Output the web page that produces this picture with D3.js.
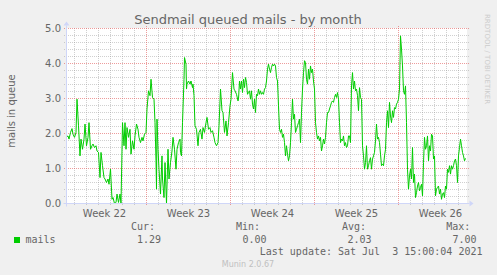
<!DOCTYPE html>
<html><head><meta charset="utf-8">
<script src="https://cdn.jsdelivr.net/npm/d3@7"></script>
<style>
html,body{margin:0;padding:0;background:#F0F0F0;}
svg{display:block;}
text{white-space:pre;}
</style></head>
<body>
<svg id="chart" width="497" height="275"></svg>
<script>
// ---------- DATA ----------
const chartTitle = "Sendmail queued mails - by month";
const yAxisLabel = "mails in queue";
const startTime = "2021-05-31T08:00:00Z";
const endTime   = "2021-07-03T16:00:00Z";
const weekStarts = ["2021-05-31","2021-06-07","2021-06-14","2021-06-21","2021-06-28"];
const weekLabels = ["Week 22","Week 23","Week 24","Week 25","Week 26"];
const yTicks = [0,1,2,3,4,5];
const yTickLabels = ["0.0","1.0","2.0","3.0","4.0","5.0"];
const seriesName = "mails";
const statLabels = ["Cur:","Min:","Avg:","Max:"];
const statValues = ["1.29","0.00","2.03","7.00"];
const lastUpdate = "Last update: Sat Jul  3 15:00:04 2021";
const footer = "Munin 2.0.67";
const watermark = "RRDTOOL / TOBI OETIKER";

// hours after startTime
const sampleHours = [
0,3,5,8,11,13,16,19,21,24,27,29,32,35,37,40,43,45,48,51,53,56,59,61,64,67,69,72,75,77,80,83,85,88,91,93,96,99,101,104,107,109,
112,115,117,119,121,124,127,129,132,135,137,140,143,145,148,151,153,156,159,161,164,167,169,172,175,177,179,180,181,183,185,188,191,192,195,197,200,203,205,208,211,213,216,219,221,224,227,
228,230,232,235,236,239,240,241,244,247,249,252,253,255,257,260,263,265,268,271,273,276,279,281,284,287,289,292,295,297,300,303,305,308,311,313,316,319,321,324,327,329,332,335,337,340,343,
344,346,348,350,352,354,356,358,360,362,364,366,368,370,372,374,376,378,380,382,
384,386,388,390,392,394,396,398,400,402,404,406,408,410,412,414,416,418,420,422,
424,426,428,430,432,434,436,438,440,442,444,446,448,450,452,454,456,458,460,462,
464,466,468,470,472,474,476,478,480,482,484,486,488,490,492,494,496,498,500,502,
504,506,508,510,512,514,516,518,520,522,524,526,528,530,532,534,536,538,540,542,
544,546,548,550,552,554,556,558,560,562,564,566,568,570,572,574,576,578,580,582,
584,586,588,590,592,594,596,598,600,602,604,606,608,610,612,614,616,618,620,622,
624,626,628,630,632,634,636,638,640,642,644,646,648,650,652,654,656,658,660,662,
664,666,668,670,672,674,676,678,680,682,684,686,688,690,692,694,696,698,700,702,
704,706,708,710,712,714,716,718,720,722,724,726,728,730,732,734,736,738,740,742,
744,746,748,750,752,754,756,758,760,762,764,766,768,770,772,774,776,778,780,782,
784,786,788,790,792,794,796,798
];
const mailsQueued = [
1.90,1.93,1.84,2.03,2.14,1.98,1.89,2.03,2.98,2.22,1.36,1.84,1.55,1.84,2.27,1.65,1.89,2.31,1.55,1.65,1.70,1.60,1.65,1.50,1.46,0.74,1.46,1.08,0.74,0.70,0.60,0.70,0.55,0.98,0.12,0.17,0.00,0.03,0.27,0.03,0.27,0.00,
2.31,1.65,2.31,1.55,2.17,1.89,2.12,1.41,1.79,1.55,1.93,2.27,2.12,1.89,1.74,1.89,1.79,1.98,2.03,2.70,3.22,3.08,3.55,3.03,2.98,2.31,1.22,0.41,2.41,1.55,0.98,0.27,1.36,0.70,0.17,1.17,0.00,1.55,0.70,1.17,1.50,1.89,1.55,0.98,1.55,1.74,1.84,
1.46,1.36,2.31,3.55,4.17,3.98,3.27,3.41,3.50,3.41,3.50,3.31,3.41,3.08,2.22,2.12,1.65,2.03,2.12,1.84,2.17,2.03,2.31,2.46,2.12,2.17,2.03,2.08,1.89,1.74,1.65,1.74,2.22,3.27,2.65,2.60,2.03,2.36,1.93,2.31,2.79,2.98,3.74,3.27,3.22,3.12,2.93,
2.98,3.50,3.27,3.50,3.17,3.55,3.31,3.60,3.46,3.12,3.17,3.22,2.98,3.22,2.84,2.70,2.98,2.60,3.12,3.08,3.27,3.12,3.22,3.12,3.17,3.12,3.27,3.31,3.50,3.84,
3.98,3.84,3.74,3.89,3.98,3.93,3.98,3.93,3.60,3.50,2.79,2.12,2.03,2.12,1.89,1.98,1.74,1.36,1.65,1.41,1.22,1.36,1.74,2.31,2.98,2.41,2.55,2.03,
2.12,2.22,2.31,2.41,1.74,2.60,3.27,3.74,4.08,4.03,3.55,3.41,3.84,3.55,3.93,3.74,3.84,3.50,3.27,2.31,2.03,1.84,1.93,1.79,1.89,1.50,1.65,1.84,1.70,1.89,
2.31,2.60,2.60,2.70,2.79,2.89,2.93,2.89,3.03,3.12,3.03,3.17,2.98,2.31,1.74,1.84,1.79,1.93,1.65,1.74,1.60,1.65,1.93,1.93,1.74,3.36,3.74,3.27,
3.50,3.22,3.27,3.08,2.65,3.31,3.03,2.98,1.65,1.36,0.98,1.17,1.65,0.98,1.08,1.22,1.31,0.98,1.27,1.36,1.46,1.79,2.27,1.84,1.89,1.74,1.41,1.08,1.13,1.08,
1.36,1.55,2.31,2.65,2.17,2.89,2.50,2.31,2.65,2.46,2.74,2.70,2.84,2.89,2.98,3.27,4.79,4.41,3.93,3.22,3.12,3.36,2.31,0.98,0.41,0.79,0.98,0.70,
1.60,0.60,0.84,0.17,0.31,0.50,0.60,0.36,0.46,0.55,0.22,1.17,1.89,1.55,1.65,1.93,1.22,1.65,1.50,1.98,1.93,1.27,1.36,0.22,0.41,0.46,0.50,0.27,0.41,0.12,
0.27,0.31,0.17,0.50,0.41,0.98,0.89,1.08,0.84,1.08,0.98,1.08,1.22,1.27,1.08,0.60,1.36,1.60,1.84,1.65,1.46,1.36,1.22,1.29
];

// ---------- LAYOUT ----------
const X0 = 66.5, X1 = 466.5, YB = 203.5, YT = 28.5;
const FONT = "#666666", AXIS = "#CFD6F8";
const GRID = "rgba(150,150,150,0.45)", MGRID = "rgba(225,90,90,0.6)";

const svg = d3.select("#chart");
const t0 = new Date(startTime), t1 = new Date(endTime);
const x = d3.scaleUtc().domain([t0, t1]).range([X0, X1]);
const y = d3.scaleLinear().domain([0, 5]).range([YB, YT]);

// canvas
svg.append("rect").attr("x", 66).attr("y", 28).attr("width", 401).attr("height", 176).attr("fill", "#fff");

const gridG = svg.append("g").attr("shape-rendering", "crispEdges");
const HL = 64, HR = 469, VT = 26, VB = 206;
// minor horizontal grid
d3.range(0, 5.001, 0.2).forEach(v => {
  if (Math.abs(v - Math.round(v)) < 1e-6) return;
  const yy = Math.round(y(v) - 0.5) + 0.5;
  gridG.append("line").attr("x1", HL).attr("x2", HR).attr("y1", yy).attr("y2", yy)
    .attr("stroke", GRID).attr("stroke-dasharray", "1,1");
});
// minor vertical grid (days)
const weekDates = weekStarts.map(s => new Date(s + "T00:00:00Z"));
d3.utcDay.range(d3.utcDay.ceil(t0), t1).forEach(d => {
  if (weekDates.some(w => +w === +d)) return;
  const xx = Math.round(x(d) - 0.5) + 0.5;
  gridG.append("line").attr("x1", xx).attr("x2", xx).attr("y1", VT + 2).attr("y2", VB)
    .attr("stroke", GRID).attr("stroke-dasharray", "1,1");
});
// major horizontal grid
yTicks.forEach(v => {
  const yy = Math.round(y(v) - 0.5) + 0.5;
  gridG.append("line").attr("x1", HL).attr("x2", HR).attr("y1", yy).attr("y2", yy)
    .attr("stroke", MGRID).attr("stroke-dasharray", "1,1");
});
// major vertical grid (weeks)
weekDates.forEach(d => {
  if (d < t0) return;
  const xx = Math.round(x(d) - 0.5) + 0.5;
  gridG.append("line").attr("x1", xx).attr("x2", xx).attr("y1", VT).attr("y2", VB)
    .attr("stroke", MGRID).attr("stroke-dasharray", "1,1");
});

// y tick labels
svg.append("g").selectAll("text").data(yTicks).join("text")
  .attr("x", 61).attr("y", d => y(d) + 3.6)
  .attr("text-anchor", "end").attr("font-family", "DejaVu Sans").attr("font-size", 10)
  .attr("fill", FONT).text((d, i) => yTickLabels[i]);

// week labels
svg.append("g").selectAll("text").data(weekDates).join("text")
  .attr("x", d => x(d3.utcHour.offset(d, 84)))
  .attr("y", 216.5)
  .attr("text-anchor", "middle").attr("font-family", "DejaVu Sans").attr("font-size", 10)
  .attr("fill", FONT).text((d, i) => weekLabels[i]);

// data line
const pts = sampleHours.map((h, i) => ({t: d3.utcHour.offset(t0, h), v: mailsQueued[i]}));
svg.append("path").datum(pts)
  .attr("d", d3.line().x(d => x(d.t)).y(d => y(d.v)))
  .attr("fill", "none").attr("stroke", "#00CC00").attr("stroke-width", 1);

// axes
svg.append("line").attr("x1", X0).attr("x2", X0).attr("y1", YB + 3).attr("y2", YT - 3)
  .attr("stroke", AXIS);
svg.append("line").attr("x1", X0 - 3).attr("x2", X1 + 3).attr("y1", YB).attr("y2", YB)
  .attr("stroke", AXIS);
svg.append("path").attr("d", `M${X0-3},${YT-3}L${X0+3},${YT-3}L${X0},${YT-7}Z`).attr("fill", AXIS);
svg.append("path").attr("d", `M${X1+3},${YB-3}L${X1+3},${YB+3}L${X1+7},${YB}Z`).attr("fill", AXIS);

// title
svg.append("text").attr("x", 248).attr("y", 24).attr("text-anchor", "middle")
  .attr("font-family", "DejaVu Sans").attr("font-size", 13).attr("fill", FONT).text(chartTitle);

// y axis label
svg.append("text").attr("transform", "translate(14.5,111) rotate(-90)").attr("text-anchor", "middle")
  .attr("font-family", "DejaVu Sans").attr("font-size", 10).attr("fill", FONT).text(yAxisLabel);

// watermark
svg.append("text").attr("transform", "translate(485,14) rotate(90)").attr("text-anchor", "start")
  .attr("font-family", "DejaVu Sans").attr("font-size", 7).attr("fill", "#CCCCCC").text(watermark);

// legend
const mono = "DejaVu Sans Mono";
const statX = [131, 236, 342, 446.3];
const valX = [137, 242.5, 347.5, 452.5];
svg.append("g").selectAll("text").data(statLabels).join("text")
  .attr("x", (d, i) => statX[i]).attr("y", 229.5).attr("font-family", mono).attr("font-size", 10)
  .attr("fill", FONT).text(d => d);
svg.append("rect").attr("x", 14).attr("y", 237).attr("width", 6).attr("height", 6).attr("fill", "#00CC00");
svg.append("text").attr("x", 25.5).attr("y", 243).attr("font-family", mono).attr("font-size", 10)
  .attr("fill", FONT).text(seriesName);
svg.append("g").selectAll("text").data(statValues).join("text")
  .attr("x", (d, i) => valX[i]).attr("y", 243).attr("font-family", mono).attr("font-size", 10)
  .attr("fill", FONT).text(d => d);
svg.append("text").attr("x", 482.5).attr("y", 255).attr("text-anchor", "end")
  .attr("font-family", mono).attr("font-size", 10).attr("fill", FONT).text(lastUpdate);
svg.append("text").attr("x", 248).attr("y", 266.5).attr("text-anchor", "middle")
  .attr("font-family", "DejaVu Sans").attr("font-size", 8).attr("fill", "#C0C0C0").text(footer);
</script>
</body></html>
